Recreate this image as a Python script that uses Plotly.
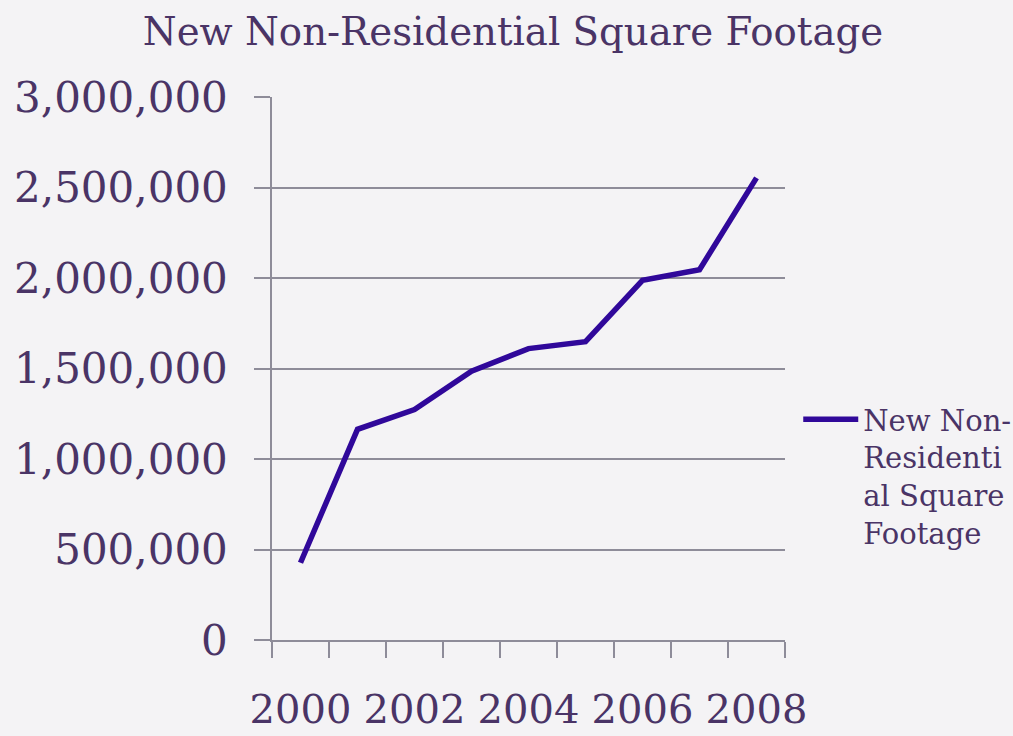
import plotly.graph_objects as go

years = [2000, 2001, 2002, 2003, 2004, 2005, 2006, 2007, 2008]
square_footage = [427000, 1164000, 1273000, 1485000, 1610000, 1648000, 1987000, 2046000, 2553000]
x_tick_labels = ["2000", "2002", "2004", "2006", "2008"]
x_tick_vals = [2000, 2002, 2004, 2006, 2008]
y_tick_vals = [0, 500000, 1000000, 1500000, 2000000, 2500000, 3000000]
series_name = "New Non-<br>Residenti<br>al Square<br>Footage"
title_text = "New Non-Residential Square Footage"

TEXT = "#4a3466"
GRID = "#8e8c99"
LINE = "#30089a"
FONT = "DejaVu Serif"

fig = go.Figure()
fig.add_trace(go.Scatter(
    x=years, y=square_footage, mode="lines", name=series_name,
    line=dict(color=LINE, width=5.5), showlegend=True,
))

fig.update_layout(
    width=1013, height=736,
    margin=dict(l=272, r=228, t=97, b=96),
    paper_bgcolor="#f4f3f5", plot_bgcolor="rgba(0,0,0,0)",
    title=dict(text=title_text, x=0.5064, xanchor="center", y=0.957, yanchor="middle",
               xref="container", font=dict(family=FONT, size=38.7, color=TEXT)),
    font=dict(family=FONT, color=TEXT),
    xaxis=dict(
        range=[1999.5, 2008.5], tickmode="array", tickvals=x_tick_vals, ticktext=x_tick_labels,
        ticks="outside", ticklen=16, tickcolor="rgba(0,0,0,0)", ticklabelstandoff=17,
        tickfont=dict(family=FONT, size=40, color=TEXT), automargin=False,
        showgrid=False, zeroline=False, showline=True, linecolor=GRID, linewidth=1.5,
        minor=dict(tickmode="linear", tick0=1999.5, dtick=1, ticks="outside", ticklen=16,
                   tickcolor=GRID, tickwidth=1.5, showgrid=False),
        fixedrange=True,
    ),
    yaxis=dict(
        range=[0, 3000000], tickmode="array", tickvals=y_tick_vals,
        tickformat=",d", ticks="outside", ticklen=16, tickcolor=GRID, tickwidth=1.5,
        ticklabelstandoff=18, automargin=False,
        tickfont=dict(family=FONT, size=42, color=TEXT),
        showgrid=True, gridcolor=GRID, gridwidth=1.5, zeroline=False,
        showline=True, linecolor=GRID, linewidth=1.5, fixedrange=True,
    ),
    legend=dict(
        xref="container", yref="container",
        x=0.788, xanchor="left", y=0.4647, yanchor="top",
        font=dict(family=FONT, size=29, color=TEXT),
        bgcolor="rgba(0,0,0,0)", itemwidth=55, valign="top",
    ),
)

fig.write_html("out.html", config={"displayModeBar": False},
               post_script="document.body.style.margin='0';document.body.style.overflow='hidden';")
